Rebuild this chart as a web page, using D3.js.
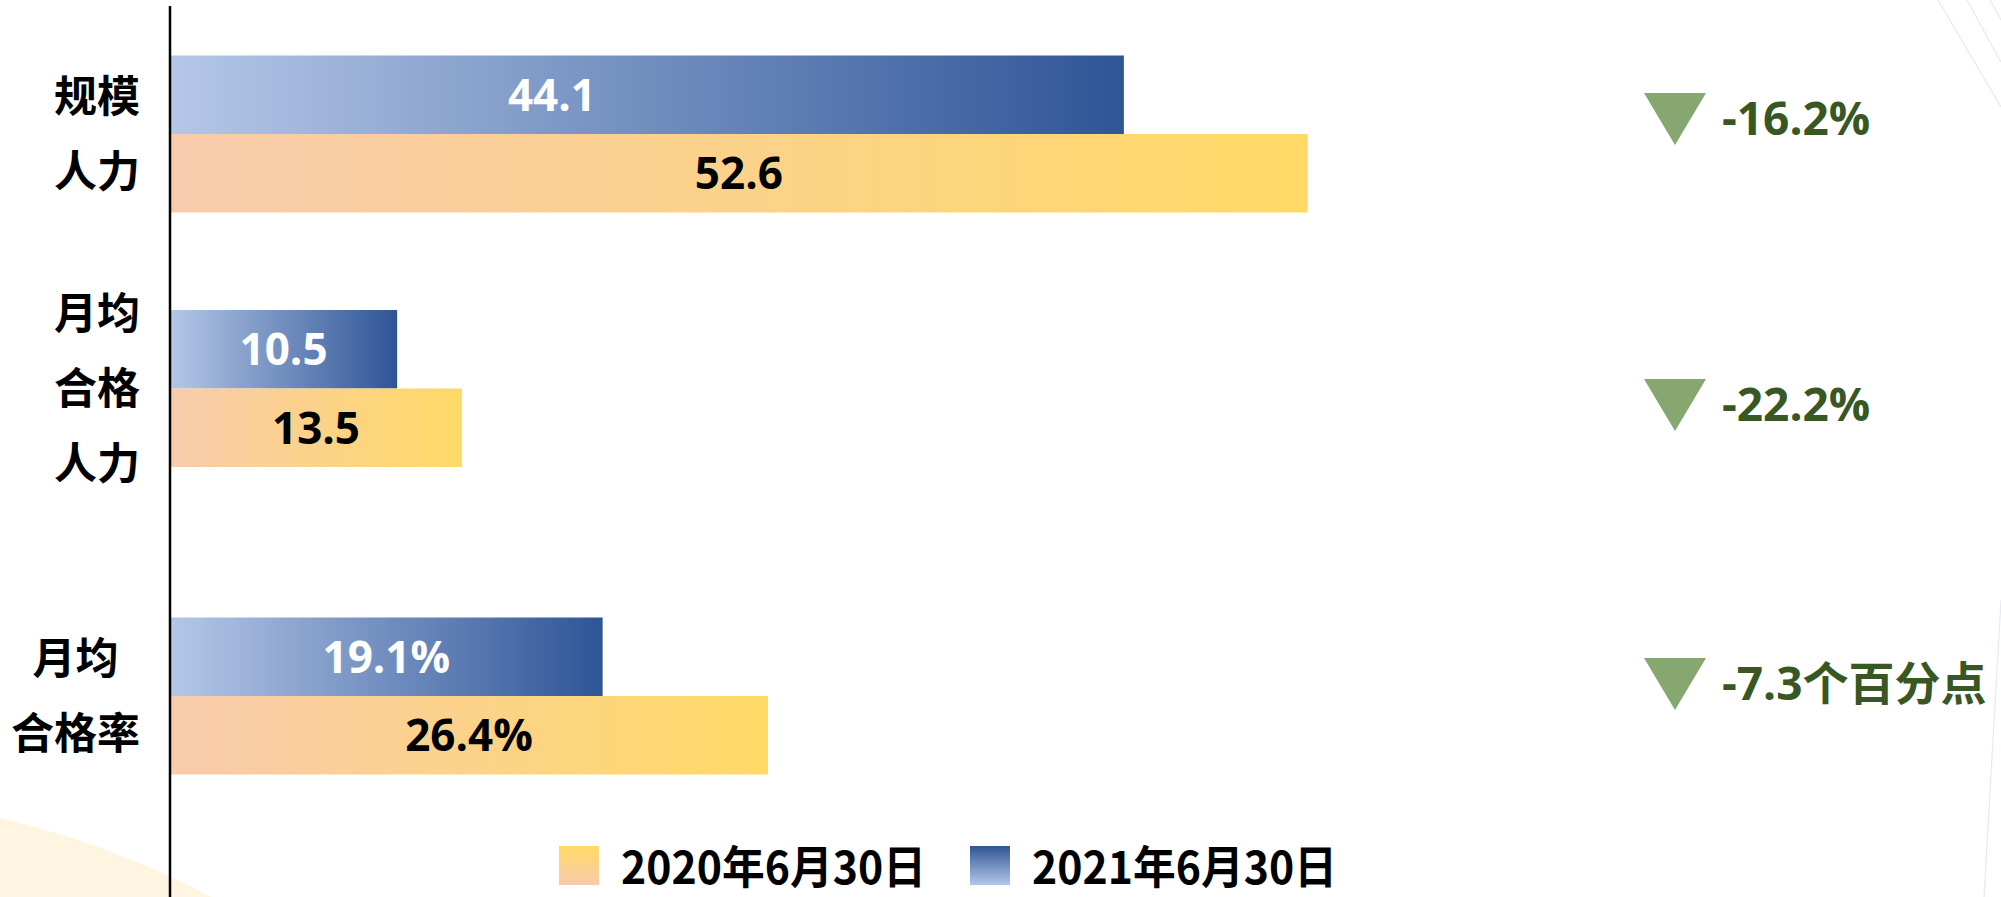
<!DOCTYPE html>
<html>
<head>
<meta charset="utf-8">
<script src="https://cdn.jsdelivr.net/npm/d3@7/dist/d3.min.js"></script>
<style>
  html, body { margin: 0; padding: 0; background: #ffffff; }
  svg { display: block; }
</style>
</head>
<body>
<div id="chart"></div>
<script>
// --- data ---
const categories = ["规模人力", "月均合格人力", "月均合格率"];
const categoryLines = [["规模", "人力"], ["月均", "合格", "人力"], ["月均\u2002", "合格率"]];
const values2021 = [44.1, 10.5, 19.1];
const values2020 = [52.6, 13.5, 26.4];
const valueSuffix = ["", "", "%"];
const changeLabels = ["-16.2%", "-22.2%", "-7.3个百分点"];
const seriesNames = ["2020年6月30日", "2021年6月30日"];

// --- layout ---
const width = 2001, height = 897;
const axisX = 170;
const barH = 78.5;
const latin = "'Open Sans', 'Noto Sans CJK SC', sans-serif";
const cjk = "'Noto Sans CJK SC', 'Noto Sans', sans-serif";

const svg = d3.select("#chart").append("svg")
  .attr("width", width)
  .attr("height", height);

const defs = svg.append("defs");
// 棒のグラデーション（左→右）
const gBlue = defs.append("linearGradient").attr("id", "grad-blue")
  .attr("x1", 0).attr("y1", 0).attr("x2", 1).attr("y2", 0);
gBlue.append("stop").attr("offset", "0%").attr("stop-color", "#B4C7E7");
gBlue.append("stop").attr("offset", "100%").attr("stop-color", "#2F5597");
const gOrange = defs.append("linearGradient").attr("id", "grad-orange")
  .attr("x1", 0).attr("y1", 0).attr("x2", 1).attr("y2", 0);
gOrange.append("stop").attr("offset", "0%").attr("stop-color", "#F8CBAD");
gOrange.append("stop").attr("offset", "100%").attr("stop-color", "#FFD966");
// 凡例（上→下）
const lBlue = defs.append("linearGradient").attr("id", "leg-blue")
  .attr("x1", 0).attr("y1", 0).attr("x2", 0).attr("y2", 1);
lBlue.append("stop").attr("offset", "0%").attr("stop-color", "#2F5597");
lBlue.append("stop").attr("offset", "100%").attr("stop-color", "#B4C7E7");
const lOrange = defs.append("linearGradient").attr("id", "leg-orange")
  .attr("x1", 0).attr("y1", 0).attr("x2", 0).attr("y2", 1);
lOrange.append("stop").attr("offset", "0%").attr("stop-color", "#FFD966");
lOrange.append("stop").attr("offset", "100%").attr("stop-color", "#F8CBAD");

// --- background decoration ---
svg.append("circle")
  .attr("cx", -200).attr("cy", 1675).attr("r", 880)
  .attr("fill", "#FFF5E1");
const deco = [[1938, 0, 2001, 107], [1967, 0, 2001, 62], [1990, 0, 2001, 20], [2001, 600, 1984, 897]];
deco.forEach(d => {
  svg.append("line")
    .attr("x1", d[0]).attr("y1", d[1]).attr("x2", d[2]).attr("y2", d[3])
    .attr("stroke", "#E2EAF6").attr("stroke-width", 1.2);
});

// --- scales ---
const y = d3.scaleOrdinal().domain(categories).range([134, 388.5, 696]);
const xCount = d3.scaleLinear().domain([0, 60]).range([axisX, axisX + 60 * 21.63]);
const xRate = d3.scaleLinear().domain([0, 30]).range([axisX, axisX + 30 * 22.65]);
const xFor = i => (valueSuffix[i] === "%" ? xRate : xCount);
const annY = d3.scaleOrdinal().domain(categories).range([119, 405, 684]);

const g = svg.append("g");

categories.forEach((c, i) => {
  const x = xFor(i);
  const cy = y(c);

  // 2021（上）
  g.append("rect")
    .attr("x", x(0)).attr("y", cy - barH)
    .attr("width", x(values2021[i]) - x(0)).attr("height", barH)
    .attr("fill", "url(#grad-blue)");
  // 2020（下）
  g.append("rect")
    .attr("x", x(0)).attr("y", cy)
    .attr("width", x(values2020[i]) - x(0)).attr("height", barH)
    .attr("fill", "url(#grad-orange)");

  // 数値ラベル
  const shift = i === 0 ? -95 : 0; // 元図では44.1だけ左寄せ
  g.append("text")
    .attr("x", (x(0) + x(values2021[i])) / 2 + shift)
    .attr("y", cy - barH / 2)
    .attr("dy", "0.36em")
    .attr("text-anchor", "middle")
    .style("font-family", latin).style("font-weight", 700).style("font-size", "44px")
    .style("fill", "#ffffff")
    .text(values2021[i] + valueSuffix[i]);
  g.append("text")
    .attr("x", (x(0) + x(values2020[i])) / 2)
    .attr("y", cy + barH / 2)
    .attr("dy", "0.36em")
    .attr("text-anchor", "middle")
    .style("font-family", latin).style("font-weight", 700).style("font-size", "44px")
    .style("fill", "#000000")
    .text(values2020[i].toFixed(1) + valueSuffix[i]);

  // カテゴリ名（複数行）
  const lines = categoryLines[i];
  const step = 75;
  lines.forEach((ln, k) => {
    g.append("text")
      .attr("x", 140)
      .attr("y", cy + (k - (lines.length - 1) / 2) * step)
      .attr("dy", "0.36em")
      .attr("text-anchor", "end")
      .attr("xml:space", "preserve")
      .style("font-family", cjk).style("font-weight", 700).style("font-size", "43px")
      .style("fill", "#000000")
      .text(ln);
  });

  // 増減（三角＋テキスト）
  const ay = annY(c);
  g.append("path")
    .attr("d", d3.line()([[1644, ay - 26], [1706, ay - 26], [1675, ay + 26]]) + "Z")
    .attr("fill", "#86A76F");
  g.append("text")
    .attr("x", 1722)
    .attr("y", ay + 16)
    .style("font-family", latin).style("font-weight", 700).style("font-size", "46px")
    .style("fill", "#385723")
    .text(changeLabels[i]);
});

// 軸線
svg.append("line")
  .attr("x1", axisX).attr("y1", 6).attr("x2", axisX).attr("y2", height)
  .attr("stroke", "#000000").attr("stroke-width", 2.5);

// --- legend ---
const legend = svg.append("g");
const legendItems = [
  { name: seriesNames[0], fill: "url(#leg-orange)", x: 559 },
  { name: seriesNames[1], fill: "url(#leg-blue)", x: 970 }
];
legendItems.forEach(d => {
  legend.append("rect")
    .attr("x", d.x).attr("y", 846)
    .attr("width", 40).attr("height", 39)
    .attr("fill", d.fill);
  legend.append("text")
    .attr("x", d.x + 62)
    .attr("y", 884)
    .attr("textLength", 305)
    .attr("lengthAdjust", "spacingAndGlyphs")
    .style("font-family", cjk).style("font-weight", 700).style("font-size", "45px")
    .style("fill", "#000000")
    .text(d.name);
});
</script>
</body>
</html>
